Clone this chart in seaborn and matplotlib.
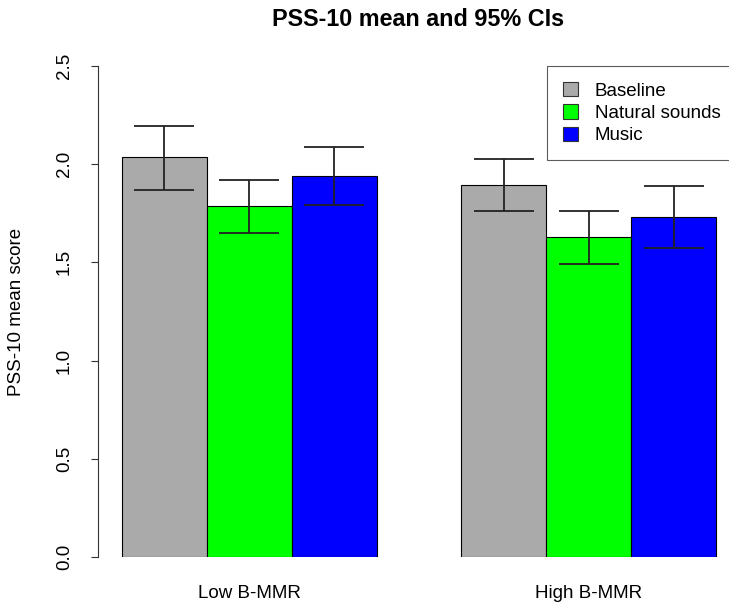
import numpy as np
import pandas as pd
import matplotlib
matplotlib.use("Agg")
import matplotlib.pyplot as plt
import seaborn as sns
from matplotlib.patches import Patch

# datos
grupos = ["Low B-MMR", "High B-MMR"]
condiciones = ["Baseline", "Natural sounds", "Music"]
media_low = [2.035, 1.785, 1.940]
media_high = [1.893, 1.627, 1.731]
ci_inf_low = [1.868, 1.650, 1.792]
ci_sup_low = [2.197, 1.922, 2.088]
ci_inf_high = [1.762, 1.493, 1.573]
ci_sup_high = [2.026, 1.762, 1.888]
colores = ["#AAAAAA", "#00FF00", "#0000FF"]

df = pd.DataFrame({
    "grupo": np.repeat(grupos, 3),
    "condicion": condiciones * 2,
    "media": media_low + media_high,
    "inf": ci_inf_low + ci_inf_high,
    "sup": ci_sup_low + ci_sup_high,
})

sns.set_style("white")
plt.rcParams["font.family"] = ["Liberation Sans", "DejaVu Sans"]
plt.rcParams["text.color"] = "black"
plt.rcParams["axes.labelcolor"] = "black"
plt.rcParams["xtick.color"] = "black"
plt.rcParams["ytick.color"] = "black"
fs = 13.5

fig = plt.figure(figsize=(7.29, 6.07), dpi=100)
ax = fig.add_axes([98 / 729, 50 / 607, 642 / 729, 491 / 607])

sns.barplot(data=df, x="grupo", y="media", hue="condicion", order=grupos,
            hue_order=condiciones, palette=colores, width=0.75, errorbar=None,
            edgecolor="black", linewidth=0.8, saturation=1, legend=False, ax=ax)

# barras de error (IC 95%) sobre el centro de cada barra
for bar_cont, cond in zip(ax.containers, condiciones):
    sub = df[df["condicion"] == cond].set_index("grupo").loc[grupos]
    xs = [b.get_x() + b.get_width() / 2 for b in bar_cont]
    ys = sub["media"].values
    err = np.vstack([ys - sub["inf"].values, sub["sup"].values - ys])
    ax.errorbar(xs, ys, yerr=err, fmt="none", ecolor="#222222",
                elinewidth=1.3, capsize=21.6, capthick=1.3)

ax.set_xlim(-0.445, 1.445)
ax.set_ylim(0, 2.5)
ax.set_yticks(np.arange(0, 2.51, 0.5))
ax.set_yticklabels([f"{v:.1f}" for v in np.arange(0, 2.51, 0.5)],
                   rotation=90, va="center", fontsize=fs)
ax.tick_params(axis="y", length=5, width=0.8, color="#333333", pad=13, left=True)
ax.tick_params(axis="x", length=0, pad=20, labelsize=fs)
for s in ["top", "right", "bottom"]:
    ax.spines[s].set_visible(False)
ax.spines["left"].set_bounds(0, 2.5)
ax.spines["left"].set_color("#333333")
ax.spines["left"].set_linewidth(0.8)
ax.set_xlabel("")
ax.set_ylabel("PSS-10 mean score", fontsize=fs, labelpad=22)
fig.text(418 / 729, 1 - 20 / 607, "PSS-10 mean and 95% CIs",
         ha="center", va="center", fontsize=16.8, fontweight="bold")

handles = [Patch(facecolor=c, edgecolor="#333333", linewidth=0.8) for c in colores]
leg = fig.legend(handles, condiciones, loc="upper left",
                 bbox_to_anchor=(547 / 729, 1 - 66 / 607), fontsize=fs,
                 frameon=True, fancybox=False, handlelength=0.8, handleheight=0.8,
                 handletextpad=0.9, labelspacing=0.25, borderpad=0.85,
                 borderaxespad=0)
leg.get_frame().set_edgecolor("#333333")
leg.get_frame().set_linewidth(0.8)

fig.savefig("out.png", dpi=100)
